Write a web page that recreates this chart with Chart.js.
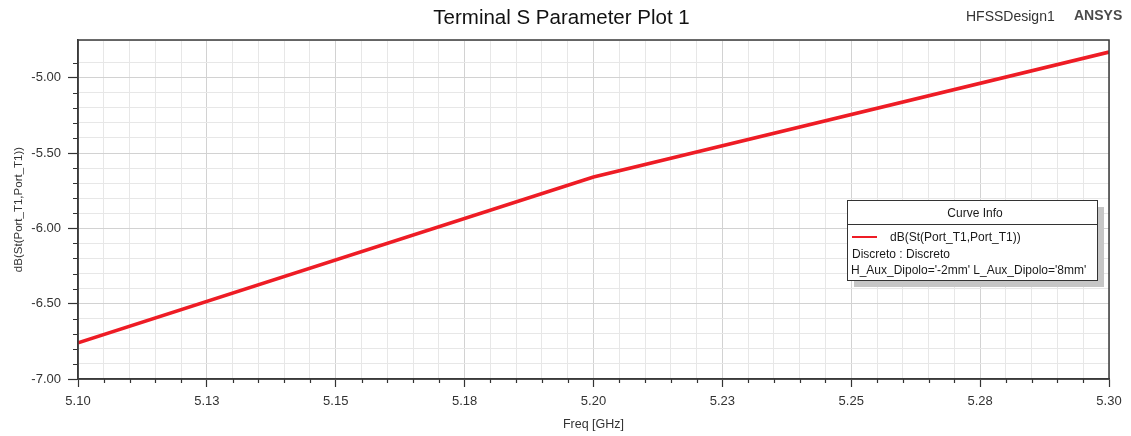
<!DOCTYPE html>
<html>
<head>
<meta charset="utf-8">
<title>Terminal S Parameter Plot 1</title>
<script src="https://cdn.jsdelivr.net/npm/chart.js@4/dist/chart.umd.min.js"></script>
<style>
  html, body { margin: 0; padding: 0; background: #ffffff; }
  canvas { display: block; }
</style>
</head>
<body>
<canvas id="plot" width="1131" height="436"></canvas>
<script>
// Sweep frequencies (GHz) and the simulated return loss (dB)
const freqGHz = [5.10, 5.20, 5.30];
const dbSt11 = [-6.76, -5.66, -4.83];

// Axis labelling
const xTickLabels = ['5.10', '5.13', '5.15', '5.18', '5.20', '5.23', '5.25', '5.28', '5.30'];
const yTickLabels = ['-7.00', '-6.50', '-6.00', '-5.50', '-5.00'];

// Header and curve info texts
const plotTitle = 'Terminal S Parameter Plot 1';
const designName = 'HFSSDesign1';
const brandName = 'ANSYS';
const legendHeader = 'Curve Info';
const traceName = 'dB(St(Port_T1,Port_T1))';
const legendLines = ['Discreto : Discreto', "H_Aux_Dipolo='-2mm' L_Aux_Dipolo='8mm'"];

const FONT = '"Liberation Sans", Arial, sans-serif';
const TRACE_RED = '#ee1c25';
const X_MIN = 5.10, X_STEP = 0.005;

function xIndex(v) { return Math.round((v - X_MIN) / X_STEP); }
function isMajorX(v) { return xIndex(v) % 5 === 0; }
function isMajorY(v) { return Math.abs(v * 2 - Math.round(v * 2)) < 1e-6; }

const frameAndDecor = {
  id: 'frameAndDecor',
  afterDraw(chart) {
    const ctx = chart.ctx;
    const a = chart.chartArea;
    const xs = chart.scales.x, ys = chart.scales.y;
    ctx.save();

    // minor tick marks
    ctx.strokeStyle = '#333333';
    ctx.lineWidth = 1.2;
    ctx.beginPath();
    xs.ticks.forEach(t => {
      if (!isMajorX(t.value)) {
        const px = Math.round(xs.getPixelForValue(t.value)) + 0.5;
        ctx.moveTo(px, a.bottom); ctx.lineTo(px, a.bottom + 4);
      }
    });
    ys.ticks.forEach(t => {
      if (!isMajorY(t.value) && t.value < -4.76) {
        const py = Math.round(ys.getPixelForValue(t.value)) + 0.5;
        ctx.moveTo(a.left, py); ctx.lineTo(a.left - 5, py);
      }
    });
    ctx.stroke();

    // plot frame
    ctx.strokeStyle = '#3a3a3a';
    ctx.lineWidth = 1.5;
    ctx.strokeRect(a.left, a.top, a.right - a.left, a.bottom - a.top);

    // header texts
    ctx.fillStyle = '#111111';
    ctx.font = '20.5px ' + FONT;
    ctx.textAlign = 'center';
    ctx.textBaseline = 'middle';
    ctx.fillText(plotTitle, 561.5, 18);
    ctx.fillStyle = '#333333';
    ctx.font = '14px ' + FONT;
    ctx.textAlign = 'left';
    ctx.fillText(designName, 966, 17);
    ctx.fillStyle = '#4a4a4a';
    ctx.font = 'bold 14px ' + FONT;
    ctx.fillText(brandName, 1074, 16);

    // curve info box with drop shadow
    const bx = 847, by = 200, bw = 250, bh = 80;
    ctx.fillStyle = '#c6c6c6';
    ctx.fillRect(bx + 7, by + 7, bw, bh);
    ctx.fillStyle = '#ffffff';
    ctx.fillRect(bx, by, bw, bh);
    ctx.strokeStyle = '#333333';
    ctx.lineWidth = 1;
    ctx.strokeRect(bx + 0.5, by + 0.5, bw, bh);
    ctx.beginPath();
    ctx.moveTo(bx, by + 24.5); ctx.lineTo(bx + bw, by + 24.5);
    ctx.stroke();

    ctx.fillStyle = '#1a1a1a';
    ctx.font = '12px ' + FONT;
    ctx.textAlign = 'center';
    ctx.fillText(legendHeader, bx + bw / 2 + 3, by + 14);
    ctx.textAlign = 'left';
    ctx.fillText(traceName, 890, 238);
    ctx.fillText(legendLines[0], 852, 255);
    ctx.fillText(legendLines[1], 851, 271);
    ctx.strokeStyle = TRACE_RED;
    ctx.lineWidth = 2;
    ctx.beginPath();
    ctx.moveTo(852, 237); ctx.lineTo(877, 237);
    ctx.stroke();

    ctx.restore();
  }
};

new Chart(document.getElementById('plot'), {
  type: 'line',
  data: {
    datasets: [{
      label: traceName,
      data: freqGHz.map((f, i) => ({ x: f, y: dbSt11[i] })),
      borderColor: TRACE_RED,
      backgroundColor: TRACE_RED,
      borderWidth: 3.6,
      pointRadius: 0,
      tension: 0,
      fill: false
    }]
  },
  options: {
    responsive: false,
    animation: false,
    devicePixelRatio: 1,
    layout: { padding: { top: 40, right: 22, left: 0, bottom: 0 } },
    plugins: {
      legend: { display: false },
      title: { display: false },
      tooltip: { enabled: false }
    },
    scales: {
      x: {
        type: 'linear',
        min: 5.10,
        max: 5.30,
        afterFit(scale) { scale.height = 57; },
        border: { display: true, color: '#3a3a3a', width: 1.5 },
        grid: {
          color: c => isMajorX(c.tick.value) ? '#d2d2d2' : '#e7e7e7',
          lineWidth: 1,
          tickLength: 8,
          tickColor: c => isMajorX(c.tick.value) ? '#333333' : 'rgba(0,0,0,0)',
          tickWidth: 1.2
        },
        ticks: {
          stepSize: X_STEP,
          autoSkip: false,
          maxRotation: 0,
          minRotation: 0,
          padding: 7,
          color: '#333333',
          font: { family: FONT, size: 13 },
          callback: v => isMajorX(v) ? xTickLabels[xIndex(v) / 5] : ''
        },
        title: {
          display: true,
          text: 'Freq [GHz]',
          color: '#333333',
          font: { family: FONT, size: 12.5 },
          padding: { top: 0, bottom: 3.5 }
        }
      },
      y: {
        type: 'linear',
        min: -7.0,
        max: -4.75,
        afterFit(scale) { scale.width = 78; },
        border: { display: true, color: '#3a3a3a', width: 1.5 },
        grid: {
          color: c => isMajorY(c.tick.value) ? '#d2d2d2' : '#e7e7e7',
          lineWidth: 1,
          tickLength: 10,
          tickColor: c => isMajorY(c.tick.value) ? '#333333' : 'rgba(0,0,0,0)',
          tickWidth: 1.2
        },
        ticks: {
          stepSize: 0.1,
          autoSkip: false,
          padding: 7,
          color: '#333333',
          font: { family: FONT, size: 13 },
          callback: v => {
            if (!isMajorY(v)) return '';
            const hit = yTickLabels.find(s => Math.abs(parseFloat(s) - v) < 1e-6);
            return hit || '';
          }
        },
        title: {
          display: true,
          text: traceName,
          color: '#333333',
          font: { family: FONT, size: 11.5 },
          padding: { top: 12.4, bottom: 0 }
        }
      }
    }
  },
  plugins: [frameAndDecor]
});
</script>
</body>
</html>
